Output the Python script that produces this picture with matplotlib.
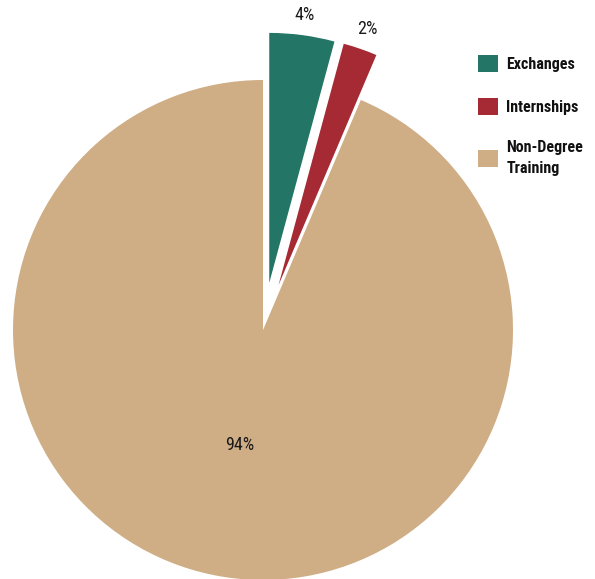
import numpy as np
import matplotlib
matplotlib.use("Agg")
import matplotlib.pyplot as plt
from matplotlib.patches import Patch

categories = ["Exchanges", "Internships", "Non-Degree\nTraining"]
values = [4.2, 2.2, 93.6]
pct_labels = ["4%", "2%", "94%"]
colors = ["#237565", "#a52a33", "#cfae86"]
explode = [0.19, 0.19, 0.0]

plt.rcParams['font.family'] = ['Roboto Condensed', 'Roboto', 'DejaVu Sans']

W, H = 595, 579
fig = plt.figure(figsize=(W / 100, H / 100), dpi=100)
ax = fig.add_axes([0, 0, 1, 1])

R = 250.0
cx, cy = 263.0, 330.0
wedges, _ = ax.pie(values, colors=colors, explode=explode, startangle=90,
                   counterclock=False, radius=1.0,
                   wedgeprops=dict(linewidth=0))

label_r = [1.27, 1.275, 0.47]
for w, lab, r in zip(wedges, pct_labels, label_r):
    ang = np.deg2rad((w.theta1 + w.theta2) / 2)
    ax.text(r * np.cos(ang), r * np.sin(ang), lab, ha='center', va='center',
            fontsize=13, color='#1a1a1a', fontweight='normal')

ax.set_xlim(-cx / R, (W - cx) / R)
ax.set_ylim(-(H - cy) / R, cy / R)
ax.set_aspect('auto')
ax.axis('off')

handles = [Patch(facecolor=c, edgecolor='none') for c in colors]
leg = fig.legend(handles, categories, loc='upper left',
                 bbox_to_anchor=(464 / W, 1 - 41 / H), frameon=False,
                 handlelength=1.25, handleheight=1.25, handletextpad=0.5,
                 labelspacing=1.6, borderpad=0.4,
                 prop=dict(weight='bold', size=11.5))
for t in leg.get_texts():
    t.set_color('#111111')
    t.set_linespacing(1.5)

fig.savefig("out.png", dpi=100)
